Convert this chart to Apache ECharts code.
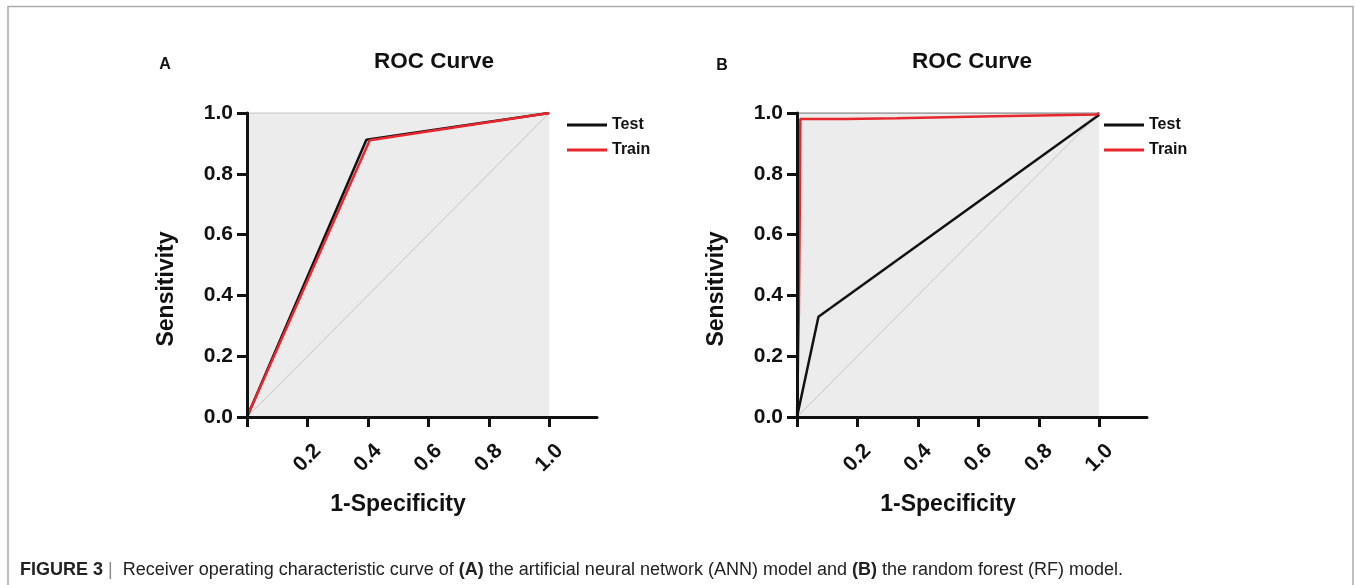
<!DOCTYPE html>
<html>
<head>
<meta charset="utf-8">
<script src="https://cdn.jsdelivr.net/npm/echarts@6/dist/echarts.min.js"></script>
<style>
  html, body { margin: 0; padding: 0; background: #fff; }
  #chart { width: 1356px; height: 585px; }
</style>
</head>
<body>
<div id="chart"></div>
<script>
// ---------------- data ----------------
const panelLetters = ['A', 'B'];
const panelTitle = 'ROC Curve';
const xAxisTitle = '1-Specificity';
const yAxisTitle = 'Sensitivity';
const seriesNames = ['Test', 'Train'];

// Panel A: ANN model
const testA  = [[0, 0], [0.395, 0.912], [1, 1]];
const trainA = [[0, 0], [0.406, 0.910], [1, 1]];
// Panel B: RF model
const testB  = [[0, 0], [0.071, 0.330], [1, 0.994]];
const trainB = [[0, 0], [0.006, 0.330], [0.009, 0.655], [0.011, 0.980],
                [0.160, 0.980], [0.160, 0.983], [0.330, 0.983], [0.330, 0.986],
                [0.490, 0.986], [0.490, 0.989], [0.650, 0.989], [0.650, 0.992],
                [0.800, 0.992], [0.800, 0.995], [0.990, 0.995], [1, 1]];
// chance diagonal and plot frame top edge
const chanceLine = [[0, 0], [1, 1]];
const topEdge = [[0, 1], [1, 1]];

const xTickValues = [0, 0.2, 0.4, 0.6, 0.8, 1.0];
const xTickLabels = [0.2, 0.4, 0.6, 0.8, 1.0];
const yTickValues = [0, 0.2, 0.4, 0.6, 0.8, 1.0];

const captionParts = {
  fig: 'FIGURE 3',
  t1: ' Receiver operating characteristic curve of ',
  a: '(A)',
  t2: ' the artificial neural network (ANN) model and ',
  b: '(B)',
  t3: ' the random forest (RF) model.'
};

// ---------------- chart ----------------
const FONT = '"Liberation Sans", Arial, Helvetica, sans-serif';
const chart = echarts.init(document.getElementById('chart'), null, { renderer: 'canvas' });

const grids = [
  { left: 247, top: 113, width: 350, height: 304 },
  { left: 797, top: 113, width: 350, height: 304 }
];
const XMAX = 1.158;

function xAxisDef(i) {
  return {
    type: 'value', gridIndex: i, min: 0, max: XMAX, interval: 0.2, z: 10,
    axisLine: { show: true, onZero: false, lineStyle: { color: '#111', width: 3 } },
    axisTick: { show: true, length: 10, customValues: xTickValues, lineStyle: { color: '#111', width: 3 } },
    axisLabel: {
      show: true, customValues: xTickLabels, rotate: 45, margin: 41,
      align: 'center', verticalAlign: 'middle',
      fontFamily: FONT, fontWeight: 'bold', fontSize: 21, color: '#111',
      formatter: v => v.toFixed(1)
    },
    splitLine: { show: false }
  };
}
function yAxisDef(i) {
  return {
    type: 'value', gridIndex: i, min: 0, max: 1, interval: 0.2, z: 10,
    axisLine: { show: true, onZero: false, lineStyle: { color: '#111', width: 3 } },
    axisTick: { show: true, length: 10, customValues: yTickValues, lineStyle: { color: '#111', width: 3 } },
    axisLabel: {
      show: true, customValues: yTickValues, margin: 14,
      fontFamily: FONT, fontWeight: 'bold', fontSize: 21, color: '#111',
      formatter: v => v.toFixed(1)
    },
    splitLine: { show: false }
  };
}

function panelSeries(i, test, train, edgeColor) {
  return [
    {
      type: 'line', xAxisIndex: i, yAxisIndex: i, data: chanceLine, z: 1,
      symbol: 'none', silent: true,
      lineStyle: { color: '#c4c4c4', width: 1 },
      markArea: {
        silent: true,
        itemStyle: { color: '#ececec' },
        data: [[{ coord: [0, 0] }, { coord: [1, 1] }]]
      }
    },
    {
      type: 'line', xAxisIndex: i, yAxisIndex: i, data: topEdge, z: 2,
      symbol: 'none', silent: true,
      lineStyle: { color: edgeColor, width: 1.5 }
    },
    {
      name: 'Test', type: 'line', xAxisIndex: i, yAxisIndex: i, data: test, z: 3,
      symbol: 'none', lineStyle: { color: '#111', width: 2.5 }, itemStyle: { color: '#111' }
    },
    {
      name: 'Train', type: 'line', xAxisIndex: i, yAxisIndex: i, data: train, z: 4,
      symbol: 'none', lineStyle: { color: '#e8262d', width: 2.5 }, itemStyle: { color: '#e8262d' }
    }
  ];
}

function legendDef(left) {
  return {
    data: seriesNames, left: left, top: 112, orient: 'vertical',
    icon: 'rect', itemWidth: 40, itemHeight: 3, itemGap: 9,
    textStyle: { fontFamily: FONT, fontWeight: 'bold', fontSize: 16, color: '#111' },
    selectedMode: false
  };
}

function txt(x, y, text, size, opts) {
  return Object.assign({
    type: 'text', x: x, y: y, z: 10,
    style: Object.assign({
      text: text, fontFamily: FONT, fontWeight: 'bold', fontSize: size,
      fill: '#111', align: 'center', verticalAlign: 'middle'
    }, (opts && opts.style) || {})
  }, (opts && opts.el) || {});
}

const option = {
  backgroundColor: '#ffffff',
  animation: false,
  grid: grids,
  xAxis: [xAxisDef(0), xAxisDef(1)],
  yAxis: [yAxisDef(0), yAxisDef(1)],
  legend: [legendDef(562), legendDef(1099)],
  series: [].concat(
    panelSeries(0, testA, trainA, '#cfcfcf'),
    panelSeries(1, testB, trainB, '#8e8e8e')
  ),
  graphic: [
    {
      type: 'rect', z: 0, silent: true,
      shape: { x: 8, y: 6.5, width: 1345, height: 700 },
      style: { fill: null, stroke: '#aaaaaa', lineWidth: 1.5 }
    },
    txt(165, 65, panelLetters[0], 16),
    txt(722, 66, panelLetters[1], 16),
    txt(434, 62, panelTitle, 22.5),
    txt(972, 62, panelTitle, 22.5),
    txt(167, 289, yAxisTitle, 23, { el: { rotation: Math.PI / 2 } }),
    txt(717, 289, yAxisTitle, 23, { el: { rotation: Math.PI / 2 } }),
    txt(398, 505, xAxisTitle, 23),
    txt(948, 505, xAxisTitle, 23),
    {
      type: 'text', x: 20, y: 570, z: 10,
      style: {
        text: '{bold|' + captionParts.fig + '}{sep| | }' + captionParts.t1 +
              '{bold|' + captionParts.a + '}' + captionParts.t2 +
              '{bold|' + captionParts.b + '}' + captionParts.t3,
        fontFamily: FONT, fontSize: 18, fill: '#222',
        align: 'left', verticalAlign: 'middle',
        rich: {
          bold: { fontFamily: FONT, fontWeight: 'bold', fontSize: 18, fill: '#222' },
          sep: { fontFamily: FONT, fontSize: 18, fill: '#888' }
        }
      }
    }
  ]
};
chart.setOption(option);
</script>
</body>
</html>
